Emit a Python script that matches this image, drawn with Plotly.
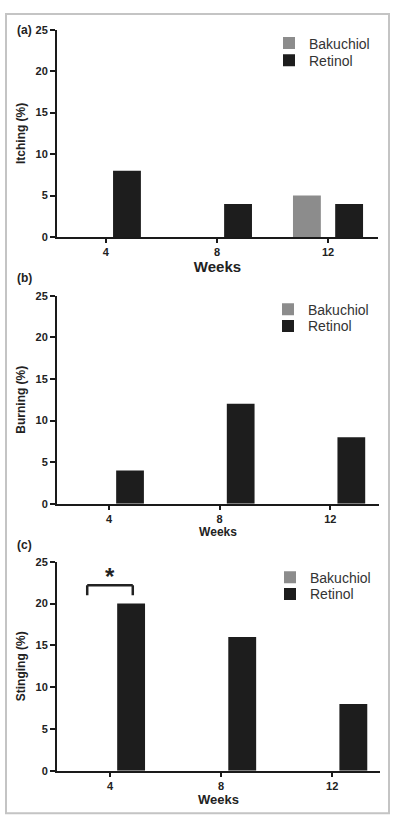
import plotly.graph_objects as go

# ---- data ----
weeks = ["4", "8", "12"]
itching_bakuchiol = [0, 0, 5]
itching_retinol = [8, 4, 4]
burning_bakuchiol = [0, 0, 0]
burning_retinol = [4, 12, 8]
stinging_bakuchiol = [0, 0, 0]
stinging_retinol = [20, 16, 8]
y_ticks = [0, 5, 10, 15, 20, 25]

BAK_COLOR = "#8c8c8c"
RET_COLOR = "#1d1d1d"
AX_COLOR = "#1a1a1a"
FONT = "Liberation Sans, Arial, Helvetica, sans-serif"

W, H = 395, 828

def px_x(p):
    return p / W

def px_y(p):
    return 1 - p / H

panels = [
    # (bak, ret, ytitle, y-domain px (top, bottom), x-domain px, x-range, weeks font size, legend text x, legend rows y)
    (itching_bakuchiol, itching_retinol, "Itching (%)", (24, 234.5), (57, 378), (-0.44, 2.45), 15, 309, (38, 55.5)),
    (burning_bakuchiol, burning_retinol, "Burning (%)", (294, 505), (57, 379), (-0.47, 2.44), 12, 308, (308, 325)),
    (stinging_bakuchiol, stinging_retinol, "Stinging (%)", (564, 776), (57, 380), (-0.477, 2.43), 13, 310, (580, 597)),
]

fig = go.Figure()
layout = {}
leg_count = 0
for i, (bak, ret, ytitle, (ytop, ybot), (xl, xr), xrange, wsize, legx, legys) in enumerate(panels):
    n = "" if i == 0 else str(i + 1)
    for name, vals, color, ly in [("Bakuchiol", bak, BAK_COLOR, legys[0]), ("Retinol", ret, RET_COLOR, legys[1])]:
        leg_count += 1
        leg = "legend" if leg_count == 1 else "legend%d" % leg_count
        fig.add_trace(go.Bar(x=weeks, y=vals, name=name, marker=dict(color=color, line=dict(width=0)),
                             xaxis="x" + n, yaxis="y" + n, legend=leg))
        layout[leg] = dict(
            x=px_x(legx - 40), xanchor="left", y=px_y(ly), yanchor="middle",
            font=dict(family=FONT, size=14, color="#333"), bgcolor="rgba(0,0,0,0)",
            borderwidth=0,
        )
    layout["xaxis" + n] = dict(
        type="category", domain=[px_x(xl), px_x(xr)], range=list(xrange),
        anchor="y" + n, showline=True, linecolor=AX_COLOR, linewidth=2,
        ticks="outside", ticklen=4, tickwidth=2, tickcolor=AX_COLOR,
        tickfont=dict(family=FONT, size=11, color="#222", weight="bold"),
        title=dict(text="Weeks", font=dict(family=FONT, size=wsize, color="#222", weight="bold"), standoff=4),
        showgrid=False, zeroline=False, fixedrange=True,
    )
    layout["yaxis" + n] = dict(
        domain=[px_y(ybot), px_y(ytop)], range=[0, 25], anchor="x" + n,
        tickvals=y_ticks, showline=True, linecolor=AX_COLOR, linewidth=2,
        ticks="outside", ticklen=5, tickwidth=2, tickcolor=AX_COLOR,
        tickfont=dict(family=FONT, size=11, color="#222", weight="bold"),
        title=dict(text=ytitle, font=dict(family=FONT, size=12, color="#222", weight="bold"), standoff=7),
        showgrid=False, zeroline=False, fixedrange=True,
    )

annotations = []
for label, ypx in [("(a)", 24), ("(b)", 276), ("(c)", 547)]:
    annotations.append(dict(text=label, x=px_x(24), y=px_y(ypx), xref="paper", yref="paper",
                            showarrow=False, xanchor="center", yanchor="middle",
                            font=dict(family=FONT, size=12, color="#222", weight="bold")))

# significance marker in panel (c), week 4: Bakuchiol vs Retinol
annotations.append(dict(text="*", x=0, y=23.2, xref="x3", yref="y3", showarrow=False,
                        xanchor="center", yanchor="middle",
                        font=dict(family=FONT, size=24, color="#222", weight="bold")))

shapes = [
    dict(type="rect", xref="paper", yref="paper", x0=px_x(6), x1=px_x(389), y0=px_y(819), y1=px_y(8),
         line=dict(color="#c4c4c4", width=2), fillcolor="rgba(0,0,0,0)", layer="below"),
]
br = dict(xref="x3", yref="y3", type="line", line=dict(color="#222", width=2.5))
shapes += [
    dict(br, x0=-0.205, x1=0.205, y0=22.2, y1=22.2),
    dict(br, x0=-0.205, x1=-0.205, y0=21.0, y1=22.2),
    dict(br, x0=0.205, x1=0.205, y0=21.0, y1=22.2),
]

fig.update_layout(
    width=W, height=H, margin=dict(l=0, r=0, t=0, b=0),
    paper_bgcolor="white", plot_bgcolor="white",
    barmode="group", bargap=0.24, bargroupgap=0.34,
    font=dict(family=FONT),
    annotations=annotations, shapes=shapes, showlegend=True,
    **layout,
)

fig.write_html("out.html", config={"displayModeBar": False},
               post_script="document.body.style.margin='0';document.body.style.overflow='hidden';")
